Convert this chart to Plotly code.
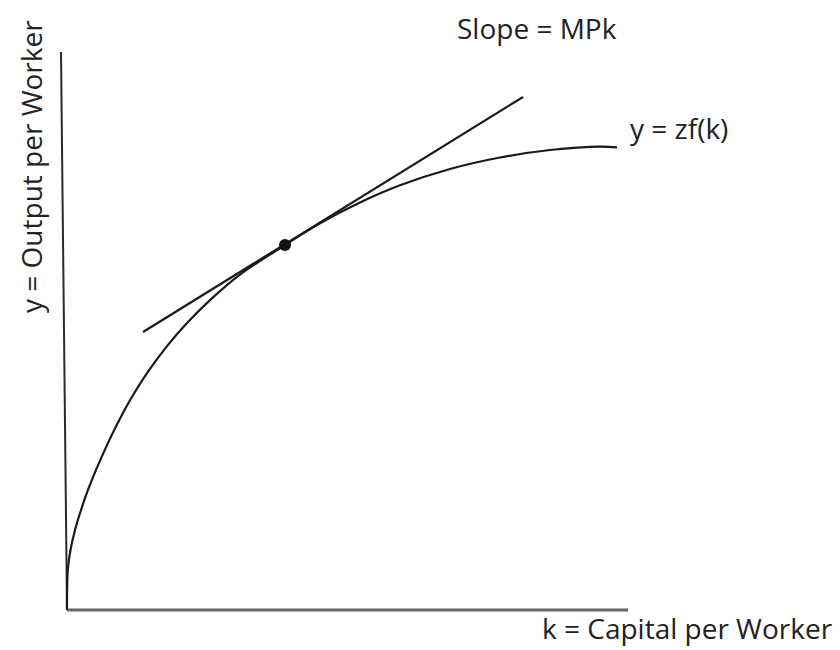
import plotly.graph_objects as go

# Production function curve y = zf(k)
k_curve = [0.0, 0.002, 0.014, 0.062, 0.143, 0.250, 0.374, 0.529, 0.713, 0.909, 1.123, 1.426,
           1.783, 2.139, 2.549, 3.084, 3.886, 4.510, 5.223, 5.936, 6.827, 7.718, 8.610, 9.501, 9.804]
y_curve = [0.0, 0.358, 0.717, 1.075, 1.434, 1.792, 2.151, 2.539, 2.955, 3.360, 3.758, 4.246,
           4.729, 5.142, 5.554, 6.011, 6.541, 6.930, 7.303, 7.611, 7.903, 8.109, 8.244, 8.306, 8.290]

# Tangent line (slope = MPk)
k_tangent = [1.355, 8.128]
y_tangent = [4.982, 9.194]

# Tangency point
k_point = [3.886]
y_point = [6.541]

# Axes
k_axis_x = [0.0, 10.0]
y_axis_x = [0.0, 0.0]
k_axis_y = [0.0, -0.107]
y_axis_y = [0.0, 10.0]

labels = {
    "slope": "Slope = MPk",
    "curve": "y = zf(k)",
    "xlabel": "k = Capital per Worker",
    "ylabel": "y = Output per Worker",
}

W, H = 840, 650
FONT = "Open Sans"
ink = "#1a1a1a"

fig = go.Figure()
fig.add_trace(go.Scatter(x=k_axis_x, y=y_axis_x, mode="lines",
                         line=dict(color="#666666", width=3), hoverinfo="skip"))
fig.add_trace(go.Scatter(x=k_axis_y, y=y_axis_y, mode="lines",
                         line=dict(color="#2a2a2a", width=2), hoverinfo="skip"))
fig.add_trace(go.Scatter(x=k_curve, y=y_curve, mode="lines",
                         line=dict(color=ink, width=2.2, shape="spline", smoothing=1.0),
                         hoverinfo="skip"))
fig.add_trace(go.Scatter(x=k_tangent, y=y_tangent, mode="lines",
                         line=dict(color=ink, width=2.2), hoverinfo="skip"))
fig.add_trace(go.Scatter(x=k_point, y=y_point, mode="markers",
                         marker=dict(color="#111111", size=12), hoverinfo="skip"))

def ann(text, px, py, angle=0):
    fig.add_annotation(text=text, x=px / W, y=1 - py / H, xref="paper", yref="paper",
                       showarrow=False, textangle=angle, xanchor="center", yanchor="middle",
                       font=dict(family=FONT, size=28, color="#222222"))

ann(labels["slope"], 537, 28)
ann(labels["curve"], 679, 128)
ann(labels["xlabel"], 687, 628)
ann(labels["ylabel"], 31, 167, angle=-90)

fig.update_layout(
    width=W, height=H,
    margin=dict(l=0, r=0, t=0, b=0),
    paper_bgcolor="white", plot_bgcolor="white",
    showlegend=False,
    xaxis=dict(range=[-67 / 56.1, (W - 67) / 56.1], visible=False, fixedrange=True),
    yaxis=dict(range=[-40 / 55.8, 610 / 55.8], visible=False, fixedrange=True),
)

fig.write_html("out.html",
               config={"displayModeBar": False},
               post_script="document.body.style.margin='0';document.body.style.overflow='hidden';")
